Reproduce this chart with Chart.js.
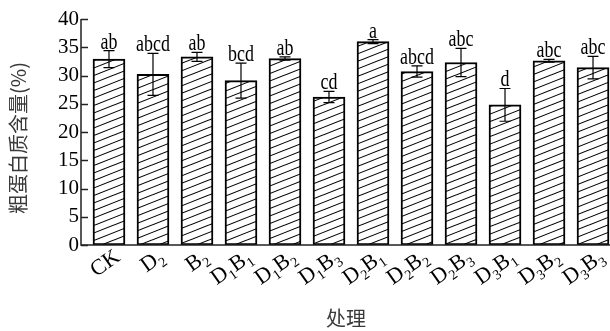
<!DOCTYPE html>
<html>
<head>
<meta charset="utf-8">
<script src="https://cdn.jsdelivr.net/npm/chart.js@4/dist/chart.umd.min.js"></script>
<style>
  html, body { margin: 0; padding: 0; background: #fff; overflow: hidden; }
  #wrap { width: 610px; height: 331px; position: relative; }
</style>
</head>
<body>
<div id="wrap"><canvas id="c" width="610" height="331"></canvas></div>
<script>
// Treatments (digits after a letter are drawn as subscripts)
const categories = ['CK', 'D2', 'B2', 'D1B1', 'D1B2', 'D1B3', 'D2B1', 'D2B2', 'D2B3', 'D3B1', 'D3B2', 'D3B3'];
// Crude protein content (%), mean and standard error
const proteinMeans = [32.9, 30.2, 33.3, 29.1, 33.0, 26.2, 36.0, 30.7, 32.3, 24.8, 32.6, 31.4];
const proteinErrors = [1.5, 3.7, 0.8, 3.1, 0.3, 1.0, 0.35, 1.0, 2.5, 2.9, 0.25, 2.0];
// Significance letters
const sigLetters = ['ab', 'abcd', 'ab', 'bcd', 'ab', 'cd', 'a', 'abcd', 'abc', 'd', 'abc', 'abc'];
// Value axis ticks
const yTicks = [0, 5, 10, 15, 20, 25, 30, 35, 40];

const yTitle = '粗蛋白质含量(%)';
const xTitle = '处理';

const SERIF = '"Liberation Serif", "Times New Roman", serif';
const CJK = '"Noto Sans CJK SC", "Noto Sans", sans-serif';

// Diagonal hatch fill for the bars
function makeHatch() {
  const w = 19, h = 7.5;
  const p = document.createElement('canvas');
  p.width = w; p.height = 15;
  const g = p.getContext('2d');
  g.fillStyle = '#fff';
  g.fillRect(0, 0, w, 15);
  g.strokeStyle = '#000';
  g.lineWidth = 1.1;
  for (const off of [-h, 0, h, 2 * h]) {
    g.beginPath();
    g.moveTo(-1, h + off + h / w);
    g.lineTo(w + 1, off - h / w);
    g.stroke();
  }
  return g.createPattern(p, 'repeat');
}

function splitLabel(s) {
  const parts = [];
  for (const ch of s) {
    const sub = /[0-9]/.test(ch);
    const last = parts[parts.length - 1];
    if (last && last.sub === sub) last.t += ch; else parts.push({ t: ch, sub });
  }
  return parts;
}

const decorations = {
  id: 'decorations',
  afterDatasetsDraw(chart) {
    const { ctx, scales: { x, y }, chartArea } = chart;
    ctx.save();

    // axes
    ctx.strokeStyle = '#222';
    ctx.lineWidth = 1.5;
    ctx.beginPath();
    ctx.moveTo(chartArea.left, y.getPixelForValue(40));
    ctx.lineTo(chartArea.left, y.getPixelForValue(0));
    ctx.lineTo(chartArea.right, y.getPixelForValue(0));
    ctx.stroke();
    // inward tick marks
    for (const v of yTicks) {
      const py = Math.round(y.getPixelForValue(v)) + 0.5;
      ctx.beginPath();
      ctx.moveTo(chartArea.left, py);
      ctx.lineTo(chartArea.left + 7, py);
      ctx.stroke();
    }

    // error bars and letters
    ctx.strokeStyle = '#000';
    ctx.lineWidth = 1.2;
    proteinMeans.forEach((m, i) => {
      const px = x.getPixelForValue(i);
      const top = y.getPixelForValue(m + proteinErrors[i]);
      const bot = y.getPixelForValue(m - proteinErrors[i]);
      ctx.beginPath();
      ctx.moveTo(px, top); ctx.lineTo(px, bot);
      ctx.moveTo(px - 5.5, top); ctx.lineTo(px + 5.5, top);
      ctx.moveTo(px - 5.5, bot); ctx.lineTo(px + 5.5, bot);
      ctx.stroke();

      ctx.save();
      ctx.translate(px, top - 2);
      ctx.scale(0.78, 1);
      ctx.fillStyle = '#000';
      ctx.font = '23px ' + SERIF;
      ctx.textAlign = 'center';
      ctx.textBaseline = 'alphabetic';
      ctx.fillText(sigLetters[i], 0, 0);
      ctx.restore();
    });

    // rotated category labels with subscripts
    const base = y.getPixelForValue(0);
    categories.forEach((lab, i) => {
      const parts = splitLabel(lab);
      const mainFont = '22px ' + SERIF, subFont = '14px ' + SERIF;
      let total = 0;
      parts.forEach(p => { ctx.font = p.sub ? subFont : mainFont; p.w = ctx.measureText(p.t).width; total += p.w; });
      ctx.save();
      ctx.translate(x.getPixelForValue(i) + 9, base + 10);
      ctx.rotate(-35 * Math.PI / 180);
      ctx.fillStyle = '#000';
      ctx.textAlign = 'left';
      ctx.textBaseline = 'middle';
      let cx = -total;
      parts.forEach(p => {
        ctx.font = p.sub ? subFont : mainFont;
        ctx.fillText(p.t, cx, p.sub ? 7 : 0);
        cx += p.w;
      });
      ctx.restore();
    });

    // axis titles
    ctx.fillStyle = '#3a3a3a';
    ctx.font = '20px ' + CJK;
    ctx.textAlign = 'center';
    ctx.textBaseline = 'middle';
    ctx.save();
    ctx.translate(18, 138);
    ctx.rotate(-Math.PI / 2);
    ctx.fillText(yTitle, 0, 0);
    ctx.restore();
    ctx.fillText(xTitle, 346, 318);

    ctx.restore();
  }
};

new Chart(document.getElementById('c'), {
  type: 'bar',
  data: {
    datasets: [{
      data: proteinMeans.map((v, i) => ({ x: i, y: v })),
      backgroundColor: makeHatch(),
      borderColor: '#000',
      borderWidth: 2,
      borderSkipped: false,
      barThickness: 32
    }]
  },
  options: {
    responsive: false,
    animation: false,
    events: [],
    layout: { padding: { top: 19, right: 0, bottom: 86, left: 0 } },
    plugins: { legend: { display: false }, tooltip: { enabled: false } },
    scales: {
      x: {
        type: 'linear',
        offset: false,
        min: -0.636,
        max: 11.386,
        display: false
      },
      y: {
        min: 0,
        max: 40,
        afterBuildTicks(scale) { scale.ticks = yTicks.map(v => ({ value: v })); },
        afterFit(scale) { scale.width = 81; },
        grid: { display: false, drawTicks: false },
        border: { display: false },
        ticks: {
          color: '#000',
          padding: 2,
          font: { family: SERIF, size: 21 }
        }
      }
    }
  },
  plugins: [decorations]
});
</script>
</body>
</html>
